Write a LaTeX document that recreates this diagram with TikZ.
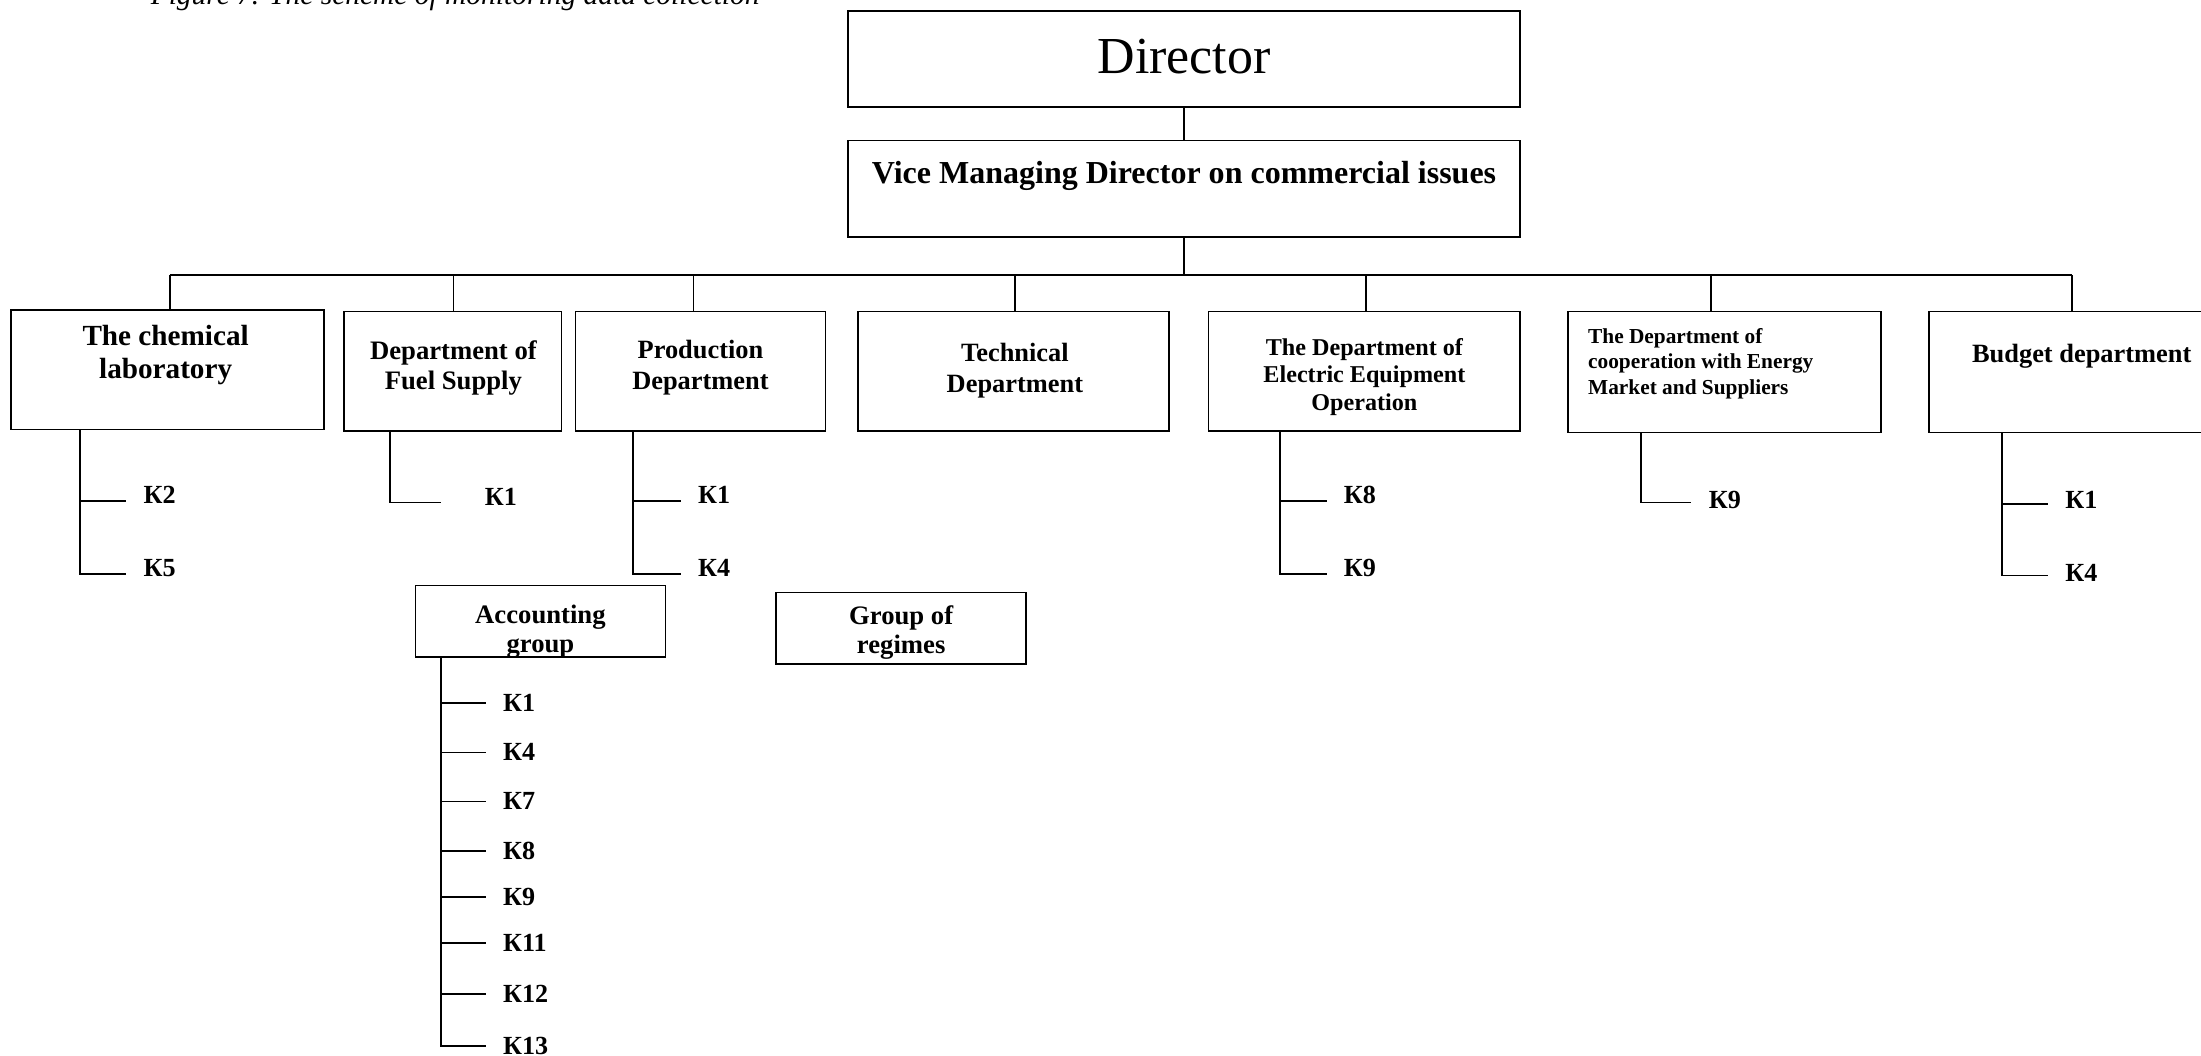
\documentclass[tikz,border=0pt]{standalone}
\usepackage{fontspec}
\setmainfont{Liberation Serif}
\begin{document}
\begin{tikzpicture}[x=0.5pt,y=-0.5pt,
  box/.style={draw, line width=0.6pt, inner sep=0pt, outer sep=0pt},
  conn/.style={line width=0.6pt},
  btxt/.style={align=center, inner sep=0pt},
  klbl/.style={anchor=base west, inner xsep=6pt, inner ysep=0pt, font=\fontsize{9.3}{11}\selectfont\bfseries},
  ]
\useasboundingbox (0,0) rectangle (1568,752);

% caption (cut off at the top, as in the reference)
\node[anchor=base west, inner sep=0pt, font=\fontsize{10.5}{12}\selectfont\itshape] (cap) at (107,3.5) {Figure 7. The scheme of monitoring data collection};

% boxes
\node[box, minimum width=239.5pt, minimum height=34pt] (dir) at (843.5,42) {};
\node[box, minimum width=239.5pt, minimum height=34.5pt] (vice) at (843.5,134.5) {};
\node[box, minimum width=111.5pt, minimum height=42.5pt] (chem) at (119.5,263.5) {};
\node[box, minimum width=77.5pt, minimum height=42.5pt] (fuel) at (322.5,264.5) {};
\node[box, minimum width=89pt, minimum height=42.5pt] (prod) at (499,264.5) {};
\node[box, minimum width=111pt, minimum height=42.5pt] (tech) at (722,264.5) {};
\node[box, minimum width=111pt, minimum height=42.5pt] (elec) at (972,264.5) {};
\node[box, minimum width=111.5pt, minimum height=43pt] (coop) at (1228.5,265) {};
\node[box, minimum width=103pt, minimum height=43pt] (budg) at (1477,265) {};
\node[box, minimum width=89pt, minimum height=25.5pt] (acc) at (385,442.5) {};
\node[box, minimum width=89pt, minimum height=25.5pt] (grp) at (642,447.5) {};

% box texts
\node[inner sep=0pt, font=\fontsize{18.5}{22}\selectfont] (dirt) at (843.5,40) {Director};
\node[btxt, font=\fontsize{11.4}{13}\selectfont\bfseries] (vicet) at (843.5,125.5) {Vice Managing Director on commercial issues};
\node[btxt, font=\fontsize{10.4}{12}\selectfont\bfseries] (chemt) at (118,253) {The chemical\\laboratory};
\node[btxt, font=\fontsize{9.5}{10.5}\selectfont\bfseries] (fuelt) at (323,262) {Department of\\Fuel Supply};
\node[btxt, font=\fontsize{9.4}{11}\selectfont\bfseries] (prodt) at (499,262) {Production\\Department};
\node[btxt, font=\fontsize{9.4}{11}\selectfont\bfseries] (techt) at (723,264) {Technical\\Department};
\node[btxt, font=\fontsize{8.6}{9.75}\selectfont\bfseries] (elect) at (972,268.5) {The Department of\\Electric Equipment\\Operation};
\node[align=left, anchor=west, inner sep=0pt, font=\fontsize{7.6}{9}\selectfont\bfseries] (coopt) at (1131,259) {The Department of\\cooperation with Energy\\Market and Suppliers};
\node[btxt, font=\fontsize{9.4}{11}\selectfont\bfseries] (budgt) at (1483,254) {Budget department};
\node[btxt, font=\fontsize{9.5}{10.5}\selectfont\bfseries] (acct) at (385,450) {Accounting\\group};
\node[btxt, font=\fontsize{9.5}{10.5}\selectfont\bfseries] (grpt) at (642,450.5) {Group of\\regimes};

% hierarchy connectors
\coordinate (bus) at (843.5,196);
\coordinate (busL) at (121,196);
\coordinate (busR) at (1476,196);
\draw[conn] (dir.south) -- (vice.north);
\draw[conn] (vice.south) -- (bus);
\draw[conn] (busL) -- (busR);
\draw[conn] (busL) -- (121,0 |- chem.north);
\draw[conn] (323,0 |- bus) -- (323,0 |- fuel.north);
\draw[conn] (494,0 |- bus) -- (494,0 |- prod.north);
\draw[conn] (723,0 |- bus) -- (723,0 |- tech.north);
\draw[conn] (973,0 |- bus) -- (973,0 |- elec.north);
\draw[conn] (1219,0 |- bus) -- (1219,0 |- coop.north);
\draw[conn] (busR) -- (1476,0 |- budg.north);

% chemical laboratory
\node[klbl] (c2) at (90,359) {К2};
\node[klbl] (c5) at (90,411) {К5};
\draw[conn] (57,0 |- chem.south) |- ([yshift=1pt]c5.base west);
\draw[conn] (57,357) -- ([yshift=1pt]c2.base west);

% fuel supply
\node[klbl] (f1) at (333,360) {К1};
\draw[conn] (278,0 |- fuel.south) |- ([xshift=-9.5pt,yshift=1pt]f1.base west);

% production
\node[klbl] (p1) at (485,359) {К1};
\node[klbl] (p4) at (485,411) {К4};
\draw[conn] (451,0 |- prod.south) |- ([yshift=1pt]p4.base west);
\draw[conn] (451,357) -- ([yshift=1pt]p1.base west);

% electric equipment
\node[klbl] (e8) at (945,359) {К8};
\node[klbl] (e9) at (945,411) {К9};
\draw[conn] (912,0 |- elec.south) |- ([yshift=1pt]e9.base west);
\draw[conn] (912,357) -- ([yshift=1pt]e8.base west);

% cooperation
\node[klbl] (o9) at (1205,362) {К9};
\draw[conn] (1169,0 |- coop.south) |- (1205,358);

% budget
\node[klbl] (b1) at (1459,362) {К1};
\node[klbl] (b4) at (1459,414) {К4};
\draw[conn] (1426,0 |- budg.south) |- (1459,410);
\draw[conn] (1426,359) -- (1459,359);

% accounting group
\node[klbl] (a1) at (346,507) {К1};
\node[klbl] (a4) at (346,542) {К4};
\node[klbl] (a7) at (346,577) {К7};
\node[klbl] (a8) at (346,612) {К8};
\node[klbl] (a9) at (346,645) {К9};
\node[klbl] (a11) at (346,678) {К11};
\node[klbl] (a12) at (346,714) {К12};
\node[klbl] (a13) at (346,751) {К13};
\draw[conn] (314,0 |- acc.south) |- (346,745);
\foreach \y in {501,536,571,606,639,672,708}
  \draw[conn] (314,\y) -- (346,\y);
\end{tikzpicture}
\end{document}
